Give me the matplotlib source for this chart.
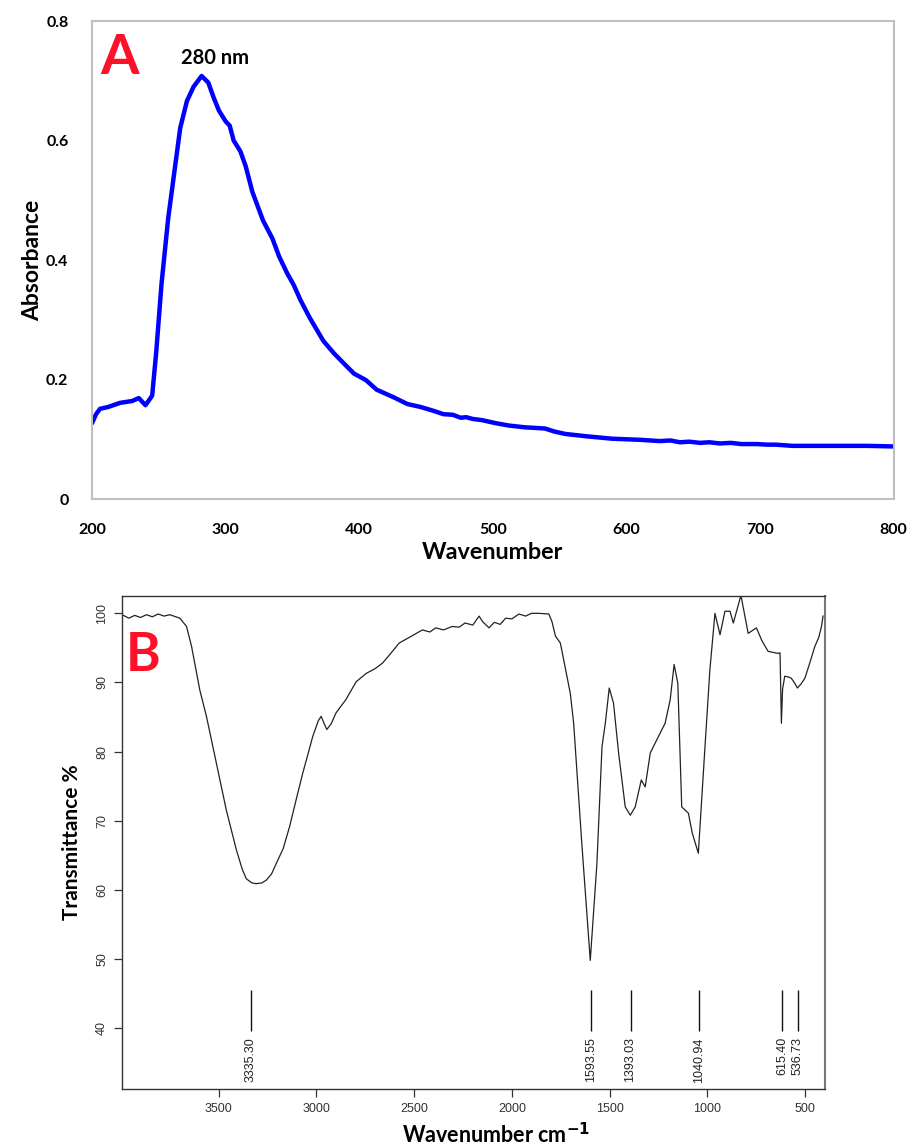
import matplotlib.pyplot as plt

# Panel A: UV-vis absorbance
uv_wl = [200, 203, 206, 212, 221, 230, 235, 240, 245, 248, 252, 257, 262, 266, 271, 276,
         282, 287, 291, 295, 300, 303, 306, 311, 315, 320, 328, 335, 340, 346, 351, 356,
         363, 373, 381, 388, 396, 405, 413, 426, 436, 446, 455, 463, 470, 476, 480, 485,
         492, 502, 512, 524, 532, 539, 546, 554, 570, 589, 611, 625, 633, 640, 647, 655,
         662, 670, 678, 686, 698, 705, 712, 718, 724, 740, 760, 780, 800]
uv_abs = [0.127, 0.142, 0.151, 0.154, 0.161, 0.164, 0.169, 0.157, 0.173, 0.245, 0.36, 0.47,
          0.554, 0.621, 0.666, 0.690, 0.708, 0.697, 0.672, 0.650, 0.632, 0.625, 0.600, 0.582,
          0.557, 0.514, 0.466, 0.436, 0.406, 0.378, 0.358, 0.333, 0.303, 0.265, 0.244, 0.228,
          0.210, 0.199, 0.183, 0.170, 0.159, 0.154, 0.148, 0.142, 0.141, 0.136, 0.137, 0.134,
          0.132, 0.127, 0.123, 0.120, 0.119, 0.118, 0.113, 0.109, 0.105, 0.101, 0.099, 0.097,
          0.098, 0.095, 0.096, 0.094, 0.095, 0.093, 0.094, 0.092, 0.092, 0.091, 0.091, 0.090,
          0.089, 0.089, 0.089, 0.089, 0.088]

# Panel B: FTIR transmittance
ir_wn = [3995, 3960, 3930, 3900, 3870, 3840, 3810, 3780, 3750, 3720, 3699, 3665, 3639, 3597,
         3563, 3512, 3461, 3410, 3380, 3359, 3330, 3308, 3280, 3257, 3230, 3206, 3170, 3138,
         3100, 3070, 3040, 3019, 2990, 2976, 2960, 2947, 2925, 2900, 2850, 2797, 2746, 2700,
         2662, 2620, 2577, 2520, 2458, 2420, 2390, 2350, 2305, 2270, 2240, 2200, 2168, 2150,
         2117, 2090, 2060, 2032, 2000, 1964, 1930, 1900, 1862, 1811, 1795, 1777, 1752, 1701,
         1684, 1641, 1599, 1565, 1539, 1522, 1502, 1480, 1454, 1420, 1394, 1369, 1338, 1318,
         1292, 1250, 1216, 1190, 1170, 1151, 1131, 1097, 1077, 1046, 1012, 987, 961, 935, 910,
         884, 867, 828, 791, 749, 720, 689, 638, 628, 621, 615, 604, 585, 570, 555, 539, 520,
         501, 476, 450, 430, 416, 408]
ir_t = [99.8, 99.3, 99.7, 99.4, 99.8, 99.5, 99.9, 99.6, 99.8, 99.5, 99.3, 98.1, 95.2, 88.9,
        85.1, 78.3, 71.5, 65.8, 63.0, 61.6, 61.0, 60.9, 61.0, 61.4, 62.3, 63.8, 66.0, 69.1,
        73.5, 76.9, 80.0, 82.2, 84.5, 85.1, 84.0, 83.2, 84.0, 85.6, 87.5, 90.1, 91.3, 92.0,
        92.8, 94.2, 95.7, 96.6, 97.6, 97.3, 97.9, 97.6, 98.1, 98.0, 98.6, 98.3, 99.6, 98.8,
        97.9, 98.7, 98.4, 99.3, 99.2, 99.9, 99.6, 100.0, 100.0, 99.9, 98.8, 96.7, 95.7, 88.4,
        84.1, 66.2, 49.8, 63.8, 80.7, 84.1, 89.2, 87.0, 79.8, 72.0, 70.8, 72.0, 75.9, 74.9,
        79.8, 82.2, 84.1, 87.5, 92.6, 89.9, 72.0, 71.1, 68.2, 65.3, 80.7, 91.8, 100.0, 96.9,
        100.3, 100.3, 98.6, 102.6, 97.1, 97.9, 96.0, 94.5, 94.2, 94.3, 84.1, 89.0, 90.9, 90.8,
        90.6, 90.0, 89.2, 89.8, 90.6, 92.8, 95.2, 96.5, 98.1, 99.6]

peak_pos = [3335.30, 1593.55, 1393.03, 1040.94, 615.40, 536.73]
peak_labels = ['3335.30', '1593.55', '1393.03', '1040.94', '615.40', '536.73']

bold_font = ['Lato', 'DejaVu Sans']
red = '#FF1028'

fig = plt.figure(figsize=(9.14, 11.48), dpi=100)

# ---- panel A
ax_a = fig.add_axes([0.1007, 0.5653, 0.8771, 0.4164])
ax_a.plot(uv_wl, uv_abs, color='#0000FF', linewidth=3.2, solid_capstyle='round')
ax_a.set_xlim(200, 800)
ax_a.set_ylim(0, 0.8)
ax_a.set_xticks([200, 300, 400, 500, 600, 700, 800])
ax_a.set_yticks([0, 0.2, 0.4, 0.6, 0.8])
ax_a.set_yticklabels(['0', '0.2', '0.4', '0.6', '0.8'])
for s in ax_a.spines.values():
    s.set_color('#BFBFBF')
    s.set_linewidth(1.5)
ax_a.tick_params(length=0, pad=17, labelsize=11.5)
for lab in ax_a.get_xticklabels() + ax_a.get_yticklabels():
    lab.set_family(bold_font)
    lab.set_fontweight('bold')
ax_a.set_xlabel('Wavenumber', family=bold_font, fontweight='bold', fontsize=16.8, labelpad=4)
ax_a.set_ylabel('Absorbance', family=bold_font, fontweight='bold', fontsize=16.5, labelpad=2)
ax_a.text(0.010, 0.975, 'A', transform=ax_a.transAxes, color=red, family=bold_font,
          fontweight='bold', fontsize=40, ha='left', va='top')
ax_a.text(292, 0.738, '280 nm', family=bold_font, fontweight='bold', fontsize=14.5,
          ha='center', va='center')

# ---- panel B
ax_b = fig.add_axes([0.1335, 0.0514, 0.7691, 0.4294])
ax_b.plot(ir_wn, ir_t, color='#222222', linewidth=0.9)
ax_b.set_xlim(3995, 398)
ax_b.set_ylim(31.2, 102.5)
ax_b.set_xticks([3500, 3000, 2500, 2000, 1500, 1000, 500])
ax_b.set_yticks([40, 50, 60, 70, 80, 90, 100])
for s in ax_b.spines.values():
    s.set_color('#333333')
    s.set_linewidth(1.0)
ax_b.spines['right'].set_color('#777777')
ax_b.spines['right'].set_linewidth(1.5)
ax_b.tick_params(direction='out', length=6, width=0.9, color='#333333',
                 labelsize=9, labelcolor='#333333', pad=4)
ax_b.tick_params(axis='y', labelrotation=90)
for lab in ax_b.get_xticklabels() + ax_b.get_yticklabels():
    lab.set_family(['Liberation Sans', 'DejaVu Sans'])
for lab in ax_b.get_yticklabels():
    lab.set_va('center')

ax_b.vlines(peak_pos, 39.6, 45.5, color='#111111', linewidth=1.0)
for p, txt in zip(peak_pos, peak_labels):
    ax_b.text(p, 38.7, txt, rotation=90, ha='center', va='top', fontsize=9,
              color='#222222', family=['Liberation Sans', 'DejaVu Sans'])

ax_b.set_xlabel(r'Wavenumber cm$^{\mathbf{-1}}$', family=bold_font, fontweight='bold',
                fontsize=15.5)
ax_b.xaxis.set_label_coords(0.532, -0.066)
ax_b.set_ylabel('Transmittance %', family=bold_font, fontweight='bold', fontsize=15,
                labelpad=10)
ax_b.text(0.006, 0.93, 'B', transform=ax_b.transAxes, color=red, family=bold_font,
          fontweight='bold', fontsize=38, ha='left', va='top')

fig.savefig('out.png', dpi=100)
plt.close(fig)
